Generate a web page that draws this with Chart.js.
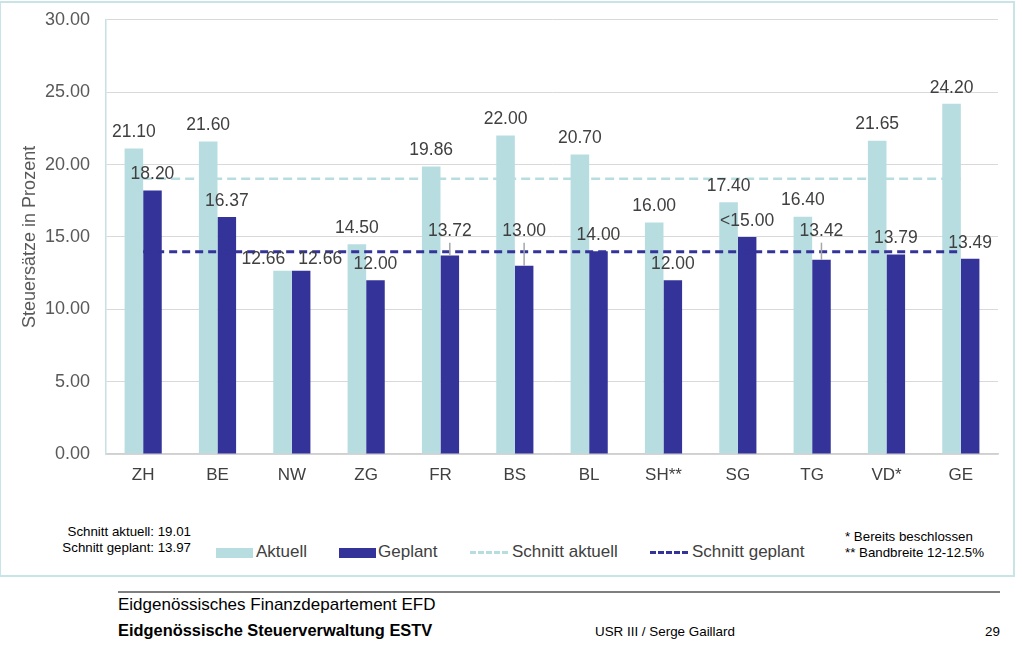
<!DOCTYPE html>
<html>
<head>
<meta charset="utf-8">
<title>Steuersätze in Prozent</title>
<script src="https://cdn.jsdelivr.net/npm/chart.js@4/dist/chart.umd.min.js"></script>
<style>
    body { margin: 0; width: 1022px; height: 645px; background: #ffffff; font-family: "Liberation Sans", Arial, sans-serif; position: relative; overflow: hidden; }
    #frame { position: absolute; left: -1px; top: 1px; width: 1016px; height: 576px; border: 2px solid #c9e4e7; box-sizing: border-box; }
    #chart { position: absolute; left: 0; top: -7px; }
    .abs { position: absolute; white-space: nowrap; }
    .small { font-size: 13.3px; color: #000; }
    .leg { font-size: 17px; color: #404040; top: 542px; }
    .box { position: absolute; top: 548px; width: 37px; height: 10px; }
    .dash { position: absolute; top: 551px; width: 38px; height: 0; }
</style>
</head>
<body>
<div id="frame"></div>
<canvas id="chart" width="1014" height="507"></canvas>

<!-- Notes and legend below the chart -->
<div class="abs small" style="right:831px; top:524px; text-align:right; line-height:16px;">Schnitt aktuell: 19.01<br>Schnitt geplant: 13.97</div>

<div class="box" style="left:216px; background:#b7dde1;"></div>
<div class="abs leg" style="left:256px;">Aktuell</div>
<div class="box" style="left:339px; background:#333399;"></div>
<div class="abs leg" style="left:378px;">Geplant</div>
<div class="dash" style="left:470px; border-top:3px dashed #b7dde1;"></div>
<div class="abs leg" style="left:512px;">Schnitt aktuell</div>
<div class="dash" style="left:650px; border-top:3px dashed #333399;"></div>
<div class="abs leg" style="left:692px;">Schnitt geplant</div>

<div class="abs small" style="left:845px; top:529px; line-height:16px;">* Bereits beschlossen<br>** Bandbreite 12-12.5%</div>

<!-- Footer -->
<div class="abs" style="left:118px; top:591px; width:882px; height:2px; background:#7f7f7f;"></div>
<div class="abs" style="left:118px; top:595px; font-size:17px; color:#000;">Eidgenössisches Finanzdepartement EFD</div>
<div class="abs" style="left:118px; top:621px; font-size:16.4px; font-weight:bold; color:#000;">Eidgenössische Steuerverwaltung ESTV</div>
<div class="abs" style="left:595px; top:624px; font-size:13.4px; color:#000;">USR III / Serge Gaillard</div>
<div class="abs" style="left:985px; top:624px; font-size:13.4px; color:#000;">29</div>

<script>
// Chart data ---------------------------------------------------------------------------

// Cantons on the x-axis
const kantone = ['ZH', 'BE', 'NW', 'ZG', 'FR', 'BS', 'BL', 'SH**', 'SG', 'TG', 'VD*', 'GE'];

// Current tax rates
const aktuell = [21.10, 21.60, 12.66, 14.50, 19.86, 22.00, 20.70, 16.00, 17.40, 16.40, 21.65, 24.20];

// Planned tax rates
const geplant = [18.20, 16.37, 12.66, 12.00, 13.72, 13.00, 14.00, 12.00, 15.00, 13.42, 13.79, 13.49];

// Text shown above the planned bars (SG is an upper bound)
const geplantText = ['18.20', '16.37', '12.66', '12.00', '13.72', '13.00', '14.00', '12.00', '<15.00', '13.42', '13.79', '13.49'];

// Upper end of the planned range (grey whisker), null where there is none
const geplantBis = [null, null, null, null, 14.6, 14.6, null, null, null, 14.6, null, null];

// Averages
const schnittAktuell = 19.01;
const schnittGeplant = 13.97;

// Y-axis ticks
const yMin = 0;
const yMax = 30;
const yStep = 5;

// Colours
const farbeAktuell = '#b7dde1';
const farbeGeplant = '#333399';

// Plugin: grey whiskers for the planned ranges and value labels above the bars
const labelPlugin = {
    id: 'labelPlugin',
    afterDatasetsDraw(chart)
    {
        const ctx = chart.ctx;
        const y = chart.scales.y;
        const metaA = chart.getDatasetMeta(0);
        const metaG = chart.getDatasetMeta(1);

        ctx.save();

        // Whiskers
        ctx.strokeStyle = '#a6a6a6';
        ctx.lineWidth = 1.5;
        geplantBis.forEach((bis, i) =>
        {
            if (bis === null) return;
            const bar = metaG.data[i];
            ctx.beginPath();
            ctx.moveTo(bar.x, bar.y);
            ctx.lineTo(bar.x, y.getPixelForValue(bis));
            ctx.stroke();
        });

        // Value labels
        ctx.font = '17.5px "Liberation Sans", Arial, sans-serif';
        ctx.fillStyle = '#404040';
        ctx.textAlign = 'center';
        ctx.textBaseline = 'middle';

        kantone.forEach((k, i) =>
        {
            const barA = metaA.data[i];
            const barG = metaG.data[i];
            const textA = aktuell[i].toFixed(2);
            const textG = geplantText[i];

            let yA = barA.y - 16;
            let yG = geplantBis[i] !== null ? y.getPixelForValue(geplantBis[i]) - 12 : barG.y - 16;

            let xA = barA.x;
            let xG = barG.x;

            // If both labels sit on the same height, push them apart and a little lower
            const wA = ctx.measureText(textA).width;
            const wG = ctx.measureText(textG).width;
            if (Math.abs(yA - yG) < 18)
            {
                const need = (wA + wG) / 2 + 13;
                const shift = (need - (xG - xA)) / 2;
                if (shift > 0)
                {
                    xA -= shift;
                    xG += shift;
                    yA += 4;
                    yG += 4;
                }
            }

            ctx.fillText(textA, xA, yA);
            ctx.fillText(textG, xG, yG);
        });

        ctx.restore();
    }
};

const ctx = document.getElementById('chart').getContext('2d');

new Chart(ctx,
{
    type: 'bar',
    data:
    {
        labels: kantone,
        datasets: [
            {
                label: 'Aktuell',
                data: aktuell,
                backgroundColor: farbeAktuell,
                categoryPercentage: 0.5,
                barPercentage: 1.0,
                order: 1
            },
            {
                label: 'Geplant',
                data: geplant,
                backgroundColor: farbeGeplant,
                categoryPercentage: 0.5,
                barPercentage: 1.0,
                order: 1
            },
            {
                type: 'line',
                label: 'Schnitt aktuell',
                data: kantone.map(() => schnittAktuell),
                borderColor: farbeAktuell,
                borderWidth: 2.5,
                borderDash: [9, 5],
                pointRadius: 0,
                fill: false,
                order: 0
            },
            {
                type: 'line',
                label: 'Schnitt geplant',
                data: kantone.map(() => schnittGeplant),
                borderColor: farbeGeplant,
                borderWidth: 3,
                borderDash: [8, 5],
                pointRadius: 0,
                fill: false,
                order: 0
            }
        ]
    },
    options:
    {
        responsive: false,
        animation: false,
        layout: { padding: { top: 12, right: 16, left: 0, bottom: 0 } },
        plugins:
        {
            legend: { display: false },
            tooltip: { enabled: false }
        },
        scales:
        {
            x:
            {
                grid: { color: 'rgba(0,0,0,0)', drawTicks: false },
                border: { display: true, color: '#d0d0d0', width: 1.5 },
                ticks: { color: '#404040', font: { size: 17, family: '"Liberation Sans", Arial, sans-serif' }, padding: 11 },
                afterFit: scale => { scale.height = 46; }
            },
            y:
            {
                min: yMin,
                max: yMax,
                grid: { color: '#d9d9d9', drawTicks: false },
                border: { display: true, color: '#c6e0e4', width: 1.5 },
                ticks:
                {
                    stepSize: yStep,
                    color: '#595959',
                    padding: 16,
                    font: { size: 18, family: '"Liberation Sans", Arial, sans-serif' },
                    callback: v => v.toFixed(2)
                },
                title:
                {
                    display: true,
                    text: 'Steuersätze in Prozent',
                    color: '#595959',
                    font: { size: 18, family: '"Liberation Sans", Arial, sans-serif' },
                    padding: { top: 19, bottom: 0 }
                },
                afterFit: scale => { scale.width = 106; }
            }
        }
    },
    plugins: [labelPlugin]
});
</script>
</body>
</html>
